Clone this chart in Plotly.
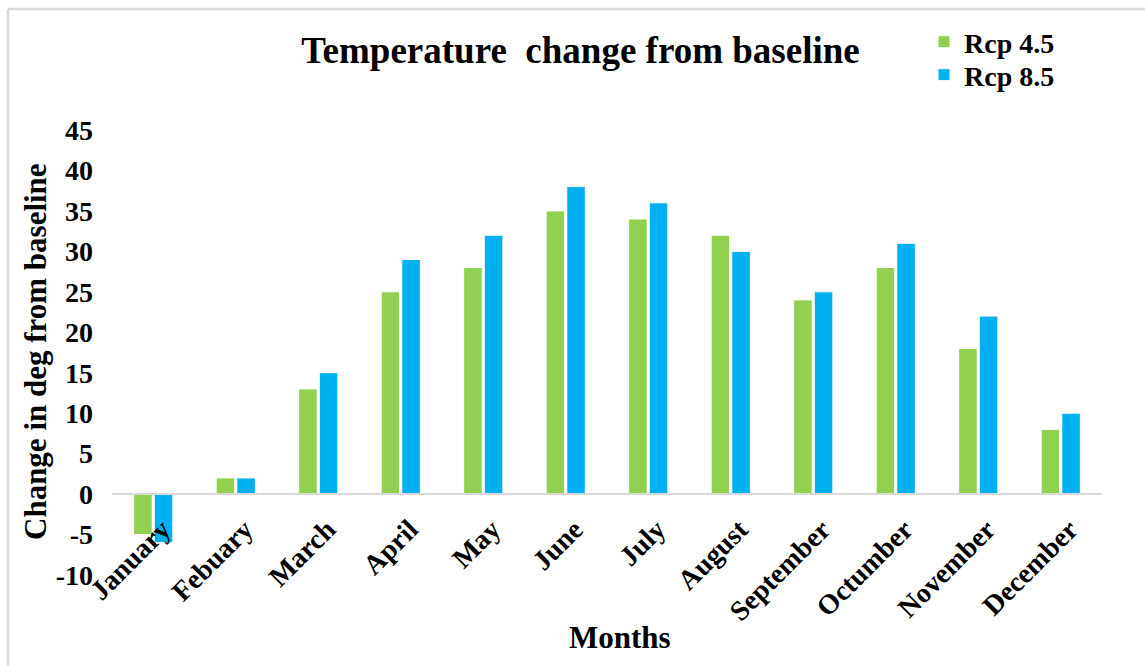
import plotly.graph_objects as go

months = ["January", "Febuary", "March", "April", "May", "June", "July",
          "August", "September", "Octumber", "November", "December"]
rcp45 = [-5, 2, 13, 25, 28, 35, 34, 32, 24, 28, 18, 8]
rcp85 = [-6, 2, 15, 29, 32, 38, 36, 30, 25, 31, 22, 10]
y_ticks = [-10, -5, 0, 5, 10, 15, 20, 25, 30, 35, 40, 45]

FONT = "Liberation Serif"

fig = go.Figure()
fig.add_trace(go.Bar(x=months, y=rcp45, name="<b>Rcp 4.5</b>", legend="legend",
                     marker=dict(color="#92D050", line=dict(color="white", width=1))))
fig.add_trace(go.Bar(x=months, y=rcp85, name="<b>Rcp 8.5</b>", legend="legend2",
                     marker=dict(color="#00B0F0", line=dict(color="white", width=1))))

ymin, ymax = -10, 45
legend_common = dict(xref="container", xanchor="left", yref="container", yanchor="middle",
                     font=dict(family=FONT, size=28, color="black"),
                     itemwidth=30, bgcolor="rgba(0,0,0,0)")
fig.update_layout(
    width=1145, height=666,
    margin=dict(l=112, r=43, t=130, b=91, autoexpand=False),
    paper_bgcolor="white", plot_bgcolor="white",
    barmode="group", bargap=0.5, bargroupgap=0.1,
    font=dict(family=FONT, color="black", size=28),
    title=dict(text="<b>Temperature  change from baseline</b>",
               font=dict(family=FONT, size=37, color="black"),
               x=0.507, xref="container", xanchor="center",
               y=1 - 50 / 666, yref="container", yanchor="middle"),
    legend=dict(x=924 / 1145, y=1 - 42 / 666, **legend_common),
    legend2=dict(x=924 / 1145, y=1 - 75 / 666, **legend_common),
    showlegend=True,
    xaxis=dict(anchor="free", position=(0 - ymin) / (ymax - ymin),
               showline=True, linecolor="#d9d9d9", linewidth=1.5,
               showgrid=False, zeroline=False, tickangle=-45,
               ticks="", ticklabelstandoff=7, ticklabelshift=9,
               tickfont=dict(family=FONT, size=28, color="black"),
               tickprefix="<b>", ticksuffix="</b>"),
    yaxis=dict(range=[ymin, ymax], tickvals=y_ticks,
               ticktext=[f"<b>{v}</b>" for v in y_ticks],
               showgrid=False, zeroline=False, showline=False, ticks="",
               ticklabelstandoff=18,
               tickfont=dict(family=FONT, size=28, color="black")),
)

fig.add_annotation(text="<b>Change in deg from baseline</b>", textangle=-90,
                   xref="paper", yref="paper", x=(35 - 112) / 990, y=(575 - 352) / 445,
                   xanchor="center", yanchor="middle", showarrow=False,
                   font=dict(family=FONT, size=31, color="black"))
fig.add_annotation(text="<b>Months</b>",
                   xref="paper", yref="paper", x=(620 - 112) / 990, y=(575 - 637) / 445,
                   xanchor="center", yanchor="middle", showarrow=False,
                   font=dict(family=FONT, size=31, color="black"))
# outer frame: top and left edges only
px = lambda v: (v - 112) / 990
py = lambda v: (575 - v) / 445
fig.add_shape(type="line", xref="paper", yref="paper",
              x0=px(8), x1=px(1150), y0=py(9), y1=py(9),
              line=dict(color="#d9d9d9", width=2.5), layer="below")
fig.add_shape(type="line", xref="paper", yref="paper",
              x0=px(8), x1=px(8), y0=py(9), y1=py(670),
              line=dict(color="#d9d9d9", width=2.5), layer="below")

fig.write_html("out.html", config={"displayModeBar": False},
               post_script="document.body.style.margin='0px';document.body.style.overflow='hidden';")
